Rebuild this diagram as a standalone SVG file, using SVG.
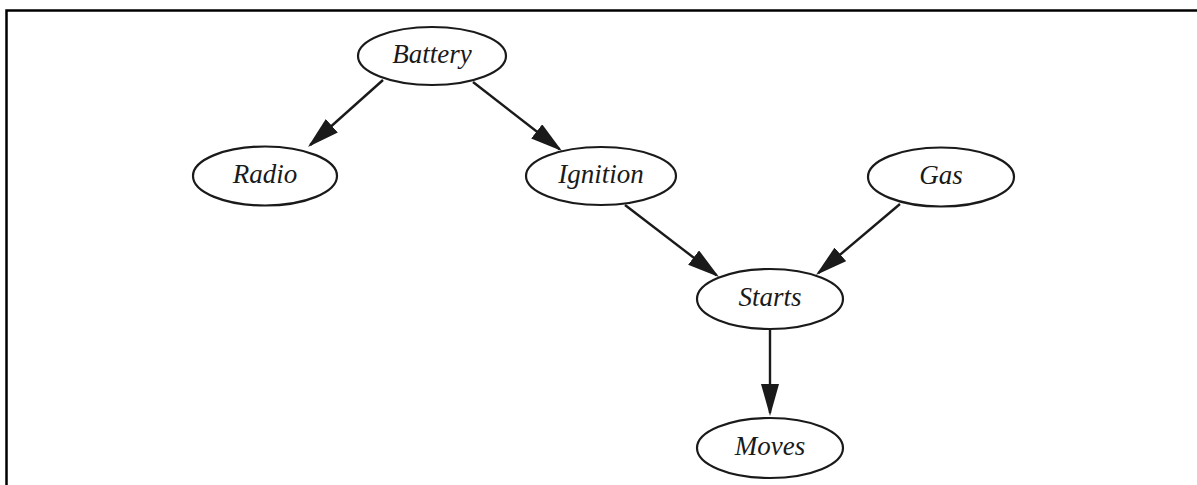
<svg xmlns="http://www.w3.org/2000/svg" width="1197" height="485" viewBox="0 0 1197 485">
<style>
.node ellipse{fill:#fff;stroke:#1a1a1a;stroke-width:2.2}
.node text{font-family:"Liberation Serif","Times New Roman",serif;font-style:italic;font-size:27px;fill:#1a1a1a;text-anchor:middle}
.edge{stroke:#1a1a1a;stroke-width:2.4;fill:none;marker-end:url(#arr)}
</style>
<defs>
<marker id="arr" viewBox="0 0 32 18" refX="29" refY="9" markerWidth="32" markerHeight="18" markerUnits="userSpaceOnUse" orient="auto">
<path d="M0,0 L32,9 L0,18 z" fill="#1a1a1a"/>
</marker>
</defs>
<rect width="1197" height="485" fill="#fff"/>
<path d="M6.5,485 V10.5 H1197" fill="none" stroke="#000" stroke-width="2.5"/>
<g id="connectors">
<line class="edge" x1="383" y1="80" x2="310.2" y2="145"/>
<line class="edge" x1="473" y1="82" x2="559.6" y2="149.2"/>
<line class="edge" x1="625" y1="205" x2="716.6" y2="275.2"/>
<line class="edge" x1="900" y1="204" x2="818.3" y2="273.1"/>
<line class="edge" x1="770" y1="329" x2="770" y2="413"/>
</g>
<g id="battery" class="node"><ellipse cx="432" cy="56" rx="74" ry="29"/><text x="432" y="63">Battery</text></g>
<g id="radio" class="node"><ellipse cx="265" cy="176" rx="72" ry="29.5"/><text x="265" y="183">Radio</text></g>
<g id="ignition" class="node"><ellipse cx="601" cy="176" rx="75" ry="29"/><text x="601" y="183">Ignition</text></g>
<g id="gas" class="node"><ellipse cx="941" cy="177" rx="73" ry="29.5"/><text x="941" y="184">Gas</text></g>
<g id="starts" class="node"><ellipse cx="770" cy="299" rx="73" ry="30"/><text x="770" y="306">Starts</text></g>
<g id="moves" class="node"><ellipse cx="770" cy="448" rx="73" ry="30"/><text x="770" y="455">Moves</text></g>
</svg>
